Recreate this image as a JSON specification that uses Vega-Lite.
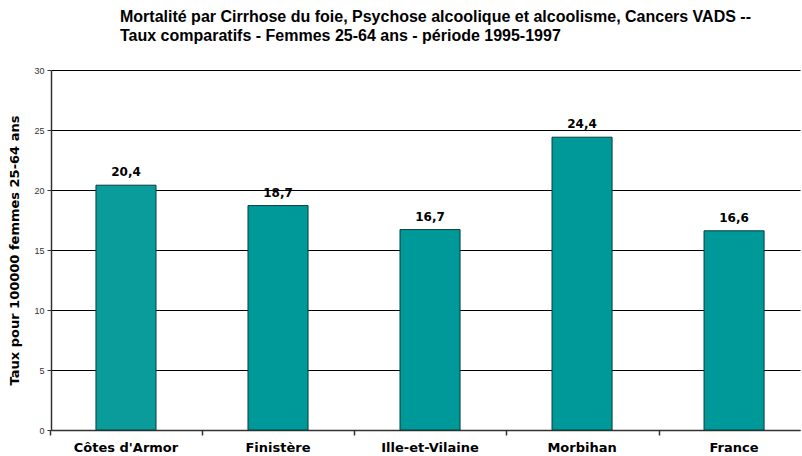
{
  "$schema": "https://vega.github.io/schema/vega-lite/v6.json",
  "autosize": "none",
  "width": 749,
  "height": 360,
  "padding": {"left": 51, "top": 70, "right": 2, "bottom": 26},
  "background": "white",
  "config": {
    "locale": {"number": {"decimal": ",", "thousands": " ", "grouping": [3], "currency": ["", " €"]}},
    "view": {"stroke": null},
    "font": "Liberation Sans"
  },
  "title": {
    "text": ["Mortalité par Cirrhose du foie, Psychose alcoolique et alcoolisme, Cancers VADS --", "Taux comparatifs - Femmes 25-64 ans - période 1995-1997"],
    "anchor": "start",
    "frame": "group",
    "dx": 69,
    "offset": 22,
    "fontSize": 16,
    "fontWeight": "bold",
    "lineHeight": 19,
    "color": "black",
    "font": "Liberation Sans"
  },
  "data": {
    "values": [
      {"region": "Côtes d'Armor", "taux": 20.4},
      {"region": "Finistère", "taux": 18.7},
      {"region": "Ille-et-Vilaine", "taux": 16.7},
      {"region": "Morbihan", "taux": 24.4},
      {"region": "France", "taux": 16.6}
    ]
  },
  "encoding": {
    "x": {
      "field": "region",
      "type": "nominal",
      "sort": null,
      "scale": {"paddingInner": 0.605, "paddingOuter": 0.266, "align": 0.556}
    },
    "y": {
      "field": "taux",
      "type": "quantitative",
      "scale": {"domain": [0, 30], "nice": false}
    }
  },
  "layer": [
    {
      "mark": {"type": "bar", "stroke": "#0b3b3b", "strokeWidth": 1},
      "encoding": {
        "x": {
          "field": "region", "type": "nominal", "sort": null,
          "axis": {
            "title": null, "labelAngle": 0, "labelFontSize": 13, "labelFontWeight": "bold",
            "labelColor": "black", "labelPadding": 11, "ticks": false,
            "domainColor": "#333333", "domainWidth": 1.5, "labelFont": "DejaVu Sans"
          }
        },
        "y": {
          "field": "taux", "type": "quantitative",
          "axis": {
            "title": "Taux pour 100000 femmes 25-64 ans",
            "titleFontSize": 13, "titleFontWeight": "bold", "titleColor": "black",
            "titleFont": "DejaVu Sans", "titlePadding": 12,
            "values": [0, 5, 10, 15, 20, 25, 30],
            "labelFontSize": 9, "labelColor": "#333333", "labelPadding": 3,
            "tickSize": 4, "tickColor": "#333333", "domainColor": "#333333", "domainWidth": 1.5,
            "grid": true, "gridColor": "black", "gridWidth": 1, "gridOpacity": 1
          }
        },
        "color": {
          "condition": {"test": "datum.region === \"Côtes d'Armor\"", "value": "#0a9c9a"},
          "value": "#009999"
        }
      }
    },
    {
      "mark": {"type": "text", "dy": -13, "fontSize": 12, "fontWeight": "bold", "color": "black", "font": "DejaVu Sans"},
      "encoding": {
        "x": {
          "field": "region", "type": "nominal", "sort": null,
          "axis": {
            "orient": "bottom", "title": null, "labels": false, "domain": false,
            "ticks": true, "tickSize": 5, "tickColor": "#333333", "tickWidth": 1.5, "bandPosition": -0.75
          }
        },
        "text": {"field": "taux", "type": "quantitative", "format": ".1f"}
      }
    }
  ],
  "resolve": {"axis": {"x": "independent"}}
}
